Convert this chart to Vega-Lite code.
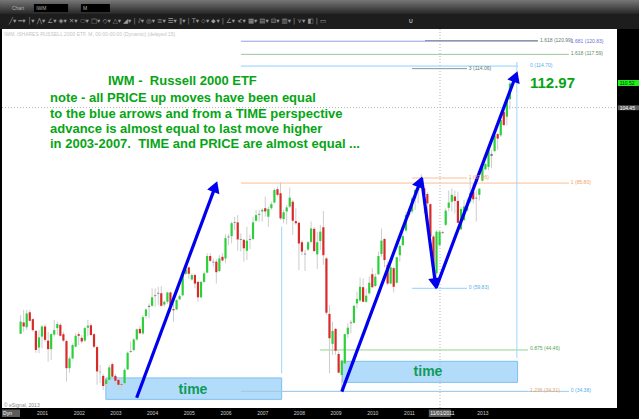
{
"$schema":"https://vega.github.io/schema/vega-lite/v6.json",
"width":615,"height":379,"autosize":"none",
"padding":{"left":2,"right":22,"top":29,"bottom":11},
"background":"#000000",
"view":{"fill":"#ffffff","stroke":null},
"resolve":{"scale":{"color":"independent"}},
"datasets":{
"candles":[
{"x":2000.417,"open":48.6,"high":53.2,"low":48.6,"close":51.6,"dir":"up"},
{"x":2000.5,"open":51.4,"high":54.5,"low":49.1,"close":50.4,"dir":"down"},
{"x":2000.583,"open":50.2,"high":54.5,"low":49.5,"close":53.6,"dir":"up"},
{"x":2000.667,"open":53.9,"high":54.5,"low":51.6,"close":51.8,"dir":"down"},
{"x":2000.75,"open":52.2,"high":52.4,"low":49.1,"close":49.5,"dir":"down"},
{"x":2000.833,"open":49.3,"high":49.5,"low":43.9,"close":44.6,"dir":"down"},
{"x":2000.917,"open":45.2,"high":49.5,"low":43.8,"close":47.7,"dir":"up"},
{"x":2001.0,"open":47.9,"high":50.8,"low":45,"close":50.4,"dir":"up"},
{"x":2001.083,"open":50.4,"high":51,"low":46.6,"close":47.1,"dir":"down"},
{"x":2001.167,"open":46.9,"high":49.1,"low":41.7,"close":44.8,"dir":"down"},
{"x":2001.25,"open":44.8,"high":48.7,"low":42.1,"close":48.5,"dir":"up"},
{"x":2001.333,"open":48.4,"high":52,"low":47.9,"close":49.5,"dir":"up"},
{"x":2001.417,"open":50,"high":51.6,"low":48.3,"close":51,"dir":"up"},
{"x":2001.5,"open":50.8,"high":51.2,"low":47.9,"close":48.1,"dir":"down"},
{"x":2001.583,"open":48.5,"high":49.1,"low":46.6,"close":46.9,"dir":"down"},
{"x":2001.667,"open":46.8,"high":47.1,"low":36.8,"close":40.1,"dir":"down"},
{"x":2001.75,"open":40.1,"high":43,"low":39,"close":42.5,"dir":"up"},
{"x":2001.833,"open":42.5,"high":46.2,"low":42.3,"close":45.8,"dir":"up"},
{"x":2001.917,"open":45.4,"high":48.7,"low":45.4,"close":48.1,"dir":"up"},
{"x":2002.0,"open":48.5,"high":49.1,"low":45.8,"close":48.1,"dir":"down"},
{"x":2002.083,"open":47.6,"high":48.3,"low":46.2,"close":46.7,"dir":"down"},
{"x":2002.167,"open":46.9,"high":50.4,"low":46.6,"close":50,"dir":"up"},
{"x":2002.25,"open":50.1,"high":52,"low":47.9,"close":50.6,"dir":"up"},
{"x":2002.333,"open":50.7,"high":51.2,"low":48.1,"close":48.3,"dir":"down"},
{"x":2002.417,"open":48.5,"high":48.7,"low":45,"close":45.4,"dir":"down"},
{"x":2002.5,"open":45.3,"high":45.6,"low":36,"close":39.3,"dir":"down"},
{"x":2002.583,"open":39.2,"high":40.9,"low":36.4,"close":39.1,"dir":"flat"},
{"x":2002.667,"open":38.2,"high":38.7,"low":34.7,"close":35.7,"dir":"down"},
{"x":2002.75,"open":36.2,"high":37.6,"low":35.5,"close":37.3,"dir":"up"},
{"x":2002.833,"open":37.2,"high":40.9,"low":36.8,"close":40.3,"dir":"up"},
{"x":2002.917,"open":41.1,"high":41.5,"low":37.6,"close":38,"dir":"down"},
{"x":2003.0,"open":38.2,"high":38.7,"low":36,"close":37,"dir":"down"},
{"x":2003.083,"open":37.2,"high":37.6,"low":34.7,"close":36,"dir":"down"},
{"x":2003.167,"open":36.2,"high":36.8,"low":34.6,"close":36,"dir":"flat"},
{"x":2003.25,"open":36.4,"high":40.1,"low":36,"close":39.7,"dir":"up"},
{"x":2003.333,"open":39.8,"high":44.2,"low":39.7,"close":43.9,"dir":"up"},
{"x":2003.417,"open":44.1,"high":46.7,"low":43.9,"close":44.3,"dir":"flat"},
{"x":2003.5,"open":44.6,"high":47.5,"low":44.2,"close":47.2,"dir":"up"},
{"x":2003.583,"open":47.2,"high":49.9,"low":46.9,"close":49.7,"dir":"up"},
{"x":2003.667,"open":49.8,"high":50.5,"low":48.5,"close":48.7,"dir":"down"},
{"x":2003.75,"open":48.7,"high":53.2,"low":48.3,"close":52.7,"dir":"up"},
{"x":2003.833,"open":53,"high":54.9,"low":52.4,"close":54.6,"dir":"up"},
{"x":2003.917,"open":55.2,"high":56.1,"low":52.4,"close":55.5,"dir":"flat"},
{"x":2004.0,"open":55.5,"high":59.8,"low":55.3,"close":57.6,"dir":"up"},
{"x":2004.083,"open":57.9,"high":59.8,"low":55.3,"close":58.1,"dir":"flat"},
{"x":2004.167,"open":58.5,"high":60.2,"low":55.7,"close":58.7,"dir":"flat"},
{"x":2004.25,"open":58.6,"high":60.4,"low":55.3,"close":55.5,"dir":"down"},
{"x":2004.333,"open":55.8,"high":56.8,"low":55.3,"close":56.5,"dir":"up"},
{"x":2004.417,"open":56.5,"high":59,"low":56,"close":58.8,"dir":"up"},
{"x":2004.5,"open":58.8,"high":59,"low":54,"close":55.3,"dir":"down"},
{"x":2004.583,"open":54.7,"high":56.1,"low":51.6,"close":54.4,"dir":"down"},
{"x":2004.667,"open":54.6,"high":57.1,"low":54.5,"close":56.9,"dir":"up"},
{"x":2004.75,"open":57.1,"high":58.3,"low":56.9,"close":57.9,"dir":"up"},
{"x":2004.833,"open":58.1,"high":63.5,"low":57.9,"close":63.4,"dir":"up"},
{"x":2004.917,"open":63.4,"high":65,"low":63.1,"close":64.5,"dir":"up"},
{"x":2005.0,"open":65,"high":65.2,"low":62.1,"close":63.4,"dir":"down"},
{"x":2005.083,"open":62,"high":63.5,"low":61.7,"close":63.1,"dir":"up"},
{"x":2005.167,"open":63.1,"high":63.5,"low":59.8,"close":61,"dir":"down"},
{"x":2005.25,"open":61.4,"high":61.7,"low":56.5,"close":57.6,"dir":"down"},
{"x":2005.333,"open":57.6,"high":61.7,"low":57.4,"close":61.4,"dir":"up"},
{"x":2005.417,"open":61.4,"high":64,"low":61.2,"close":63.5,"dir":"up"},
{"x":2005.5,"open":63.7,"high":68.5,"low":63.5,"close":67.8,"dir":"up"},
{"x":2005.583,"open":67.8,"high":68.5,"low":66.4,"close":66.6,"dir":"down"},
{"x":2005.667,"open":66.4,"high":67.2,"low":65.2,"close":66.2,"dir":"flat"},
{"x":2005.75,"open":66.4,"high":67,"low":61,"close":63.8,"dir":"down"},
{"x":2005.833,"open":64.1,"high":68,"low":63.8,"close":67.2,"dir":"up"},
{"x":2005.917,"open":67.6,"high":68.5,"low":66.4,"close":66.7,"dir":"down"},
{"x":2006.0,"open":67.2,"high":73.2,"low":66,"close":72.2,"dir":"up"},
{"x":2006.083,"open":72.4,"high":73.2,"low":70.5,"close":72.6,"dir":"flat"},
{"x":2006.167,"open":72.7,"high":76.3,"low":70.9,"close":75.9,"dir":"up"},
{"x":2006.25,"open":76,"high":77.5,"low":74.2,"close":76.2,"dir":"flat"},
{"x":2006.333,"open":76.1,"high":77.9,"low":69.1,"close":71.9,"dir":"down"},
{"x":2006.417,"open":71.8,"high":73.4,"low":68.9,"close":72,"dir":"flat"},
{"x":2006.5,"open":71.8,"high":72,"low":66.4,"close":69.7,"dir":"down"},
{"x":2006.583,"open":69.1,"high":75,"low":66.8,"close":71.6,"dir":"up"},
{"x":2006.667,"open":71.8,"high":73,"low":69.5,"close":72,"dir":"flat"},
{"x":2006.75,"open":72,"high":77.5,"low":71.8,"close":76.1,"dir":"up"},
{"x":2006.833,"open":76.5,"high":79.2,"low":76.3,"close":77.9,"dir":"up"},
{"x":2006.917,"open":78,"high":79.2,"low":76.3,"close":78.2,"dir":"flat"},
{"x":2007.0,"open":78.8,"high":79.6,"low":76.3,"close":79.2,"dir":"up"},
{"x":2007.083,"open":79.6,"high":82.5,"low":77.5,"close":78.8,"dir":"down"},
{"x":2007.167,"open":77.5,"high":80,"low":75,"close":79.4,"dir":"up"},
{"x":2007.25,"open":79.6,"high":81.2,"low":79.2,"close":80.6,"dir":"up"},
{"x":2007.333,"open":81,"high":84.5,"low":80.8,"close":84.1,"dir":"up"},
{"x":2007.417,"open":84.3,"high":84.9,"low":82.5,"close":82.9,"dir":"down"},
{"x":2007.5,"open":83.3,"high":86,"low":76.7,"close":77.1,"dir":"down"},
{"x":2007.583,"open":76.9,"high":79.2,"low":75.9,"close":78.6,"dir":"up"},
{"x":2007.667,"open":78.8,"high":80.4,"low":75.6,"close":79.8,"dir":"up"},
{"x":2007.75,"open":80,"high":84.7,"low":79.6,"close":82.2,"dir":"up"},
{"x":2007.833,"open":81.2,"high":81.6,"low":73,"close":76.5,"dir":"down"},
{"x":2007.917,"open":76.4,"high":79.6,"low":75.5,"close":75.9,"dir":"down"},
{"x":2008.0,"open":76,"high":76.3,"low":64.3,"close":70.9,"dir":"down"},
{"x":2008.083,"open":71.2,"high":71.8,"low":68,"close":68.9,"dir":"down"},
{"x":2008.167,"open":68.4,"high":69.3,"low":64.1,"close":68.2,"dir":"flat"},
{"x":2008.25,"open":69.4,"high":71.5,"low":69,"close":71.2,"dir":"up"},
{"x":2008.333,"open":71.3,"high":76.3,"low":70.9,"close":74.6,"dir":"up"},
{"x":2008.417,"open":74.5,"high":75,"low":68.9,"close":69,"dir":"down"},
{"x":2008.5,"open":68.2,"high":73.8,"low":64.6,"close":71.2,"dir":"up"},
{"x":2008.583,"open":71.5,"high":75.5,"low":69.3,"close":73.8,"dir":"up"},
{"x":2008.667,"open":74.9,"high":78.9,"low":65.6,"close":68,"dir":"down"},
{"x":2008.75,"open":67.2,"high":67.5,"low":53.2,"close":53.8,"dir":"down"},
{"x":2008.833,"open":53.5,"high":55.7,"low":38.8,"close":47.5,"dir":"down"},
{"x":2008.917,"open":46.1,"high":51.6,"low":43.4,"close":49.3,"dir":"up"},
{"x":2009.0,"open":49.8,"high":50,"low":43.4,"close":44.4,"dir":"down"},
{"x":2009.083,"open":43.6,"high":44.2,"low":38.8,"close":39,"dir":"down"},
{"x":2009.167,"open":38.4,"high":42.2,"low":34.4,"close":42,"dir":"up"},
{"x":2009.25,"open":41.3,"high":48.6,"low":41,"close":48.5,"dir":"up"},
{"x":2009.333,"open":48.5,"high":51.2,"low":47.5,"close":50.1,"dir":"up"},
{"x":2009.417,"open":51.2,"high":52,"low":48.7,"close":51.4,"dir":"flat"},
{"x":2009.5,"open":51.3,"high":55.7,"low":51.2,"close":55.5,"dir":"up"},
{"x":2009.583,"open":56.1,"high":59,"low":54.9,"close":57.2,"dir":"up"},
{"x":2009.667,"open":56.8,"high":62.5,"low":56.5,"close":60.2,"dir":"up"},
{"x":2009.75,"open":60.1,"high":62.3,"low":56.4,"close":56.5,"dir":"down"},
{"x":2009.833,"open":56.5,"high":59.8,"low":56.3,"close":58,"dir":"up"},
{"x":2009.917,"open":58.6,"high":62.7,"low":58.2,"close":61.2,"dir":"up"},
{"x":2010.0,"open":63.3,"high":64.8,"low":59.8,"close":60.1,"dir":"down"},
{"x":2010.083,"open":60.4,"high":63.5,"low":60.2,"close":62.7,"dir":"up"},
{"x":2010.167,"open":63.3,"high":68.9,"low":63.1,"close":67.8,"dir":"up"},
{"x":2010.25,"open":68.3,"high":74.6,"low":67.6,"close":71.6,"dir":"up"},
{"x":2010.333,"open":72,"high":72.2,"low":65,"close":66.8,"dir":"down"},
{"x":2010.417,"open":65.6,"high":66.4,"low":60.6,"close":61,"dir":"down"},
{"x":2010.5,"open":61,"high":65.6,"low":60.8,"close":65,"dir":"up"},
{"x":2010.583,"open":64.8,"high":65.2,"low":58.8,"close":60.2,"dir":"down"},
{"x":2010.667,"open":61.2,"high":67.7,"low":61,"close":67.5,"dir":"up"},
{"x":2010.75,"open":68,"high":70.9,"low":66.4,"close":70.3,"dir":"up"},
{"x":2010.833,"open":70.5,"high":74.2,"low":70.1,"close":72.7,"dir":"up"},
{"x":2010.917,"open":74.1,"high":78.7,"low":73.8,"close":77.9,"dir":"up"},
{"x":2011.0,"open":78.8,"high":79.6,"low":77.5,"close":78,"dir":"down"},
{"x":2011.083,"open":78.8,"high":82.5,"low":78.3,"close":82,"dir":"up"},
{"x":2011.167,"open":82,"high":84.5,"low":79.2,"close":84.1,"dir":"up"},
{"x":2011.25,"open":84.1,"high":86.6,"low":80.8,"close":86.2,"dir":"up"},
{"x":2011.333,"open":85,"high":88,"low":84.5,"close":86.8,"dir":"up"},
{"x":2011.417,"open":84.5,"high":85.3,"low":78.3,"close":82.9,"dir":"down"},
{"x":2011.5,"open":83.1,"high":83.7,"low":77.5,"close":80.8,"dir":"down"},
{"x":2011.583,"open":80.6,"high":80.8,"low":72.6,"close":72.6,"dir":"down"},
{"x":2011.667,"open":72.6,"high":73,"low":64,"close":64.4,"dir":"down"},
{"x":2011.75,"open":63.5,"high":74.2,"low":62.3,"close":73.8,"dir":"up"},
{"x":2011.833,"open":70.5,"high":74,"low":70.1,"close":73.8,"dir":"up"},
{"x":2011.917,"open":73.5,"high":74,"low":73.2,"close":73.7,"dir":"flat"},
{"x":2012.0,"open":75.5,"high":79.6,"low":75.2,"close":79,"dir":"up"},
{"x":2012.083,"open":79.7,"high":84,"low":78.8,"close":81,"dir":"up"},
{"x":2012.167,"open":81.2,"high":84.5,"low":78.8,"close":82.9,"dir":"up"},
{"x":2012.25,"open":82.5,"high":84,"low":78.3,"close":81.4,"dir":"down"},
{"x":2012.333,"open":81.4,"high":83.7,"low":75.9,"close":76,"dir":"down"},
{"x":2012.417,"open":74.4,"high":80,"low":74.2,"close":79.4,"dir":"up"},
{"x":2012.5,"open":76.7,"high":81.6,"low":76.4,"close":80,"dir":"up"},
{"x":2012.583,"open":79,"high":82,"low":78.8,"close":80.8,"dir":"up"},
{"x":2012.667,"open":81.2,"high":87,"low":80.8,"close":83.3,"dir":"up"},
{"x":2012.75,"open":83.7,"high":85.7,"low":80.8,"close":81.8,"dir":"down"},
{"x":2012.833,"open":82.2,"high":84,"low":76.3,"close":82,"dir":"flat"},
{"x":2012.917,"open":82.9,"high":84.6,"low":81.5,"close":84.4,"dir":"up"},
{"x":2013.0,"open":86.4,"high":90.3,"low":86.2,"close":89.9,"dir":"up"},
{"x":2013.083,"open":89.2,"high":90.8,"low":89,"close":90.5,"dir":"up"},
{"x":2013.167,"open":89.8,"high":94.3,"low":89,"close":93.9,"dir":"up"},
{"x":2013.25,"open":92.5,"high":94,"low":89.5,"close":93,"dir":"flat"},
{"x":2013.333,"open":93.7,"high":98,"low":93.5,"close":97.6,"dir":"up"},
{"x":2013.417,"open":97.9,"high":98.2,"low":94,"close":96.8,"dir":"down"},
{"x":2013.5,"open":97.6,"high":102.2,"low":97.2,"close":101.4,"dir":"up"},
{"x":2013.583,"open":103.4,"high":103.8,"low":100.1,"close":100.1,"dir":"down"},
{"x":2013.667,"open":102.2,"high":106.7,"low":100.1,"close":106.3,"dir":"up"},
{"x":2013.75,"open":106.5,"high":110.8,"low":104,"close":110.4,"dir":"up"}
],
"chrome":[
{"x":1999.856,"x2":2017.267,"y":127.56,"y2":123.85,"s":"toolbar"},
{"x":2000.78,"x2":2001.71,"y":130.0,"y2":128.05,"s":"black"},
{"x":2002.06,"x2":2002.85,"y":130.0,"y2":128.05,"s":"black"},
{"x":2016.69,"x2":2017.267,"y":111.26,"y2":109.78,"s":"green"},
{"x":2016.69,"x2":2017.267,"y":105.0,"y2":103.8,"s":"grey"},
{"x":2011.54,"x2":2012.14,"y":29.9,"y2":28.05,"s":"grey"},
{"x":1999.91,"x2":2000.4,"y":29.9,"y2":28.05,"s":"grey"}
],
"boxes":[
{"x":2002.74,"x2":2007.53,"y":37.7,"y2":32.4},
{"x":2009.19,"x2":2013.96,"y":41.8,"y2":36.6}
],
"cross":[
{"x":2011.845,"x2":2011.845,"y":123.85,"y2":30.27},
{"x":1999.91,"x2":2016.668,"y":104.45,"y2":104.45}
],
"hlines":[
{"x":2006.42,"x2":2014.515,"y":120.83,"s":"purple"},
{"x":2011.436,"x2":2014.515,"y":120.99,"s":"slate"},
{"x":2006.42,"x2":2015.36,"y":117.59,"s":"sage"},
{"x":2006.42,"x2":2013.97,"y":114.7,"s":"sky"},
{"x":2011.08,"x2":2012.58,"y":114.06,"s":"slate"},
{"x":2006.42,"x2":2015.36,"y":85.8,"s":"orange"},
{"x":2011.08,"x2":2012.58,"y":87.06,"s":"orange"},
{"x":2011.08,"x2":2012.58,"y":59.83,"s":"sky"},
{"x":2008.57,"x2":2014.24,"y":44.6,"s":"green"},
{"x":2006.42,"x2":2014.24,"y":34.36,"s":"orange"},
{"x":2006.42,"x2":2015.36,"y":34.38,"s":"sky"}
],
"vlines":[
{"x":2007.53,"y":75.0,"y2":38.8},
{"x":2013.94,"y":115.7,"y2":42.6}
],
"arrows":[
{"x":2003.58,"y":32.8,"arrow":"a"},{"x":2005.703,"y":84.5,"arrow":"a"},
{"x":2009.17,"y":34.3,"arrow":"b"},{"x":2011.286,"y":85.7,"arrow":"b"},
{"x":2011.34,"y":87.06,"arrow":"c"},{"x":2011.714,"y":61.4,"arrow":"c"},
{"x":2011.74,"y":59.98,"arrow":"d"},{"x":2013.885,"y":111.7,"arrow":"d"}
],
"heads":[
{"x":2005.703,"y":84.5,"heading":20.4},
{"x":2011.286,"y":85.7,"heading":20.5},
{"x":2011.714,"y":61.4,"heading":172.5},
{"x":2013.885,"y":111.7,"heading":20.5}
],
"fiblabels":[
{"x":2014.57,"y":121.2,"text":"1.618 (120.99)","s":"slate"},
{"x":2015.41,"y":121.0,"text":"1.681 (120.83)","s":"purple"},
{"x":2015.41,"y":117.9,"text":"1.618 (117.59)","s":"sage"},
{"x":2014.3,"y":114.95,"text":"0 (114.70)","s":"sky"},
{"x":2012.63,"y":114.2,"text":"3 (114.06)","s":"slate"},
{"x":2015.41,"y":86.0,"text":"1 (85.80)","s":"orange"},
{"x":2012.63,"y":87.4,"text":"1 (87.06)","s":"orange"},
{"x":2012.63,"y":60.2,"text":"0 (59.83)","s":"sky"},
{"x":2014.3,"y":45.0,"text":"0.875 (44.46)","s":"green"},
{"x":2014.3,"y":34.6,"text":"1.236 (34.31)","s":"orange"},
{"x":2015.41,"y":34.6,"text":"0 (34.38)","s":"sky"}
],
"uilabels":[
{"x":2000.18,"y":129.04,"text":"Chart","s":"dim"},
{"x":2000.84,"y":129.04,"text":"IWM","s":"dim"},
{"x":2002.12,"y":129.04,"text":"M","s":"dim"},
{"x":1999.965,"y":122.6,"text":"IWM, iSHARES RUSSELL 2000 ETF, M, 00:00-00:00 (Dynamic) (delayed 15)","s":"pale"},
{"x":1999.965,"y":31.0,"text":"© eSignal, 2013","s":"mid"},
{"x":2016.74,"y":110.52,"text":"110.52","s":"ink"},
{"x":2016.74,"y":104.45,"text":"104.45","s":"white"},
{"x":2011.58,"y":29.04,"text":"11/01/2011","s":"white"},
{"x":1999.94,"y":29.04,"text":"Dyn","s":"white"},
{"x":2011.0,"y":125.83,"text":"U","s":"white"}
],
"notes":[
{"x":2002.798,"y":111.0,"text":"IWM -\u00a0\u00a0Russell 2000 ETF"},
{"x":2001.218,"y":106.7,"text":"note - all PRICE up moves have been equal"},
{"x":2001.218,"y":102.9,"text":"to the blue arrows and from a TIME perspective"},
{"x":2001.218,"y":99.2,"text":"advance is almost equal to last move higher"},
{"x":2001.218,"y":95.5,"text":"in 2003-2007.\u00a0\u00a0TIME and PRICE are almost equal ..."}
]
},
"encoding":{
"x":{"field":"x","type":"quantitative","title":null,
 "scale":{"domain":[1999.91,2016.668],"nice":false,"zero":false},
 "axis":{"orient":"bottom","values":[2001,2002,2003,2004,2005,2006,2007,2008,2009,2010,2011,2013],"format":"d","grid":false,"domain":false,"ticks":false,"labelColor":"#cfcfcf","labelFont":"Liberation Sans","labelFontSize":5,"labelPadding":2}},
"y":{"field":"y","type":"quantitative","title":null,
 "scale":{"domain":[30.27,123.85],"nice":false,"zero":false},
 "axis":{"orient":"right","values":[32,36,40,44,48,52,56,60,64,68,72,76,80,84,88,92,96,100,104,108,112,116,120],"format":".2f","grid":false,"domain":false,"ticks":false,"labelColor":"#bdbdbd","labelFont":"Liberation Sans","labelFontSize":5,"labelPadding":3}}
},
"layer":[
{"data":{"values":[{"x":1999.856,"x2":2017.267,"y":131.01,"y2":127.56}]},
 "mark":{"type":"rect","fill":{"x1":0,"y1":0,"x2":0,"y2":1,"gradient":"linear","stops":[{"offset":0,"color":"#777777"},{"offset":1,"color":"#262626"}]}},
 "encoding":{"x2":{"field":"x2"},"y2":{"field":"y2"}}},
{"data":{"name":"chrome"},"mark":{"type":"rect"},
 "encoding":{"x2":{"field":"x2"},"y2":{"field":"y2"},
  "color":{"field":"s","legend":null,"scale":{"domain":["toolbar","black","green","grey"],"range":["#1d1d1d","#000000","#22ee22","#5c5c5c"]}}}},
{"data":{"name":"boxes"},"mark":{"type":"rect","fill":"#b3dcfb","stroke":"#7cc0f0","strokeWidth":1},
 "encoding":{"x2":{"field":"x2"},"y2":{"field":"y2"}}},
{"data":{"name":"cross"},"mark":{"type":"rule","stroke":"#b5b5b5","strokeWidth":1,"strokeDash":[1,2]},
 "encoding":{"x2":{"field":"x2"},"y2":{"field":"y2"}}},
{"data":{"name":"hlines"},"mark":{"type":"rule","strokeWidth":1},
 "encoding":{"x2":{"field":"x2"},
  "color":{"field":"s","legend":null,"scale":{"domain":["purple","slate","sage","sky","orange","green"],"range":["#9a9ae8","#7f9a92","#9cc79c","#8fd0fb","#fbbf95","#8fd68f"]}}}},
{"data":{"name":"vlines"},"mark":{"type":"rule","stroke":"#9fd5fb","strokeWidth":1},
 "encoding":{"y2":{"field":"y2"}}},
{"data":{"name":"candles"},"mark":{"type":"rule","stroke":"#cdcdcd","strokeWidth":1},
 "encoding":{"y":{"field":"low","type":"quantitative","title":null,"axis":null,"scale":{"domain":[30.27,123.85],"nice":false,"zero":false}},"y2":{"field":"high"}}},
{"data":{"name":"candles"},"mark":{"type":"rule","strokeWidth":2.2},
 "encoding":{"y":{"field":"open","type":"quantitative","title":null,"axis":null,"scale":{"domain":[30.27,123.85],"nice":false,"zero":false}},"y2":{"field":"close"},
  "color":{"field":"dir","legend":null,"scale":{"domain":["up","down","flat"],"range":["#2bd03a","#d92a2a","#777777"]}}}},
{"data":{"name":"arrows"},"mark":{"type":"line","stroke":"#0000ee","strokeWidth":3.2,"strokeCap":"butt"},
 "encoding":{"detail":{"field":"arrow"}}},
{"data":{"name":"heads"},"mark":{"type":"point","shape":"triangle","filled":true,"fill":"#0000ee","opacity":1,"size":170},
 "encoding":{"angle":{"field":"heading","type":"quantitative","scale":null}}},
{"data":{"name":"fiblabels"},"mark":{"type":"text","align":"left","baseline":"middle","font":"Liberation Sans","fontSize":5},
 "encoding":{"text":{"field":"text"},
  "color":{"field":"s","legend":null,"scale":{"domain":["purple","slate","sage","sky","orange","green"],"range":["#6f6fd8","#5f7a72","#5f8f5f","#55aee8","#f0a060","#55a855"]}}}},
{"data":{"name":"uilabels"},"mark":{"type":"text","align":"left","baseline":"middle","font":"Liberation Sans","fontSize":5},
 "encoding":{"text":{"field":"text"},
  "color":{"field":"s","legend":null,"scale":{"domain":["dim","pale","mid","ink","white"],"range":["#b0b0b0","#c4c4c4","#8a8a8a","#003300","#ffffff"]}}}},
{"data":{"values":[{"x":2000.1,"y":125.83,"text":"╱▾   ━▾   │▾   ⋀▾   ∠▾   ◈▾   ✕▾   ⬭▾   □▾   ◇▾   △▾   ◢▾  |  ⫽▾   ◎▾   ≡▾   ☰▾   ‖▾  |  T▾   ⬦▾   ⬥▾  |  ∠▾   ≮▾   ▦▾   ▤▾   ⊟▾   ▥▾  |  ⋎▾   ◧  |  ▭"}]},
 "mark":{"type":"text","align":"left","baseline":"middle","font":"DejaVu Sans","fontSize":6.5,"fill":"#9a9a9a"},
 "encoding":{"text":{"field":"text"}}},
{"data":{"name":"notes"},"mark":{"type":"text","align":"left","baseline":"middle","font":"Liberation Sans","fontWeight":"bold","fontSize":13,"fill":"#06a514"},
 "encoding":{"text":{"field":"text"}}},
{"data":{"values":[{"x":2014.297,"y":110.5,"text":"112.97"}]},
 "mark":{"type":"text","align":"left","baseline":"middle","font":"Liberation Sans","fontWeight":"bold","fontSize":15,"fill":"#06a514"},
 "encoding":{"text":{"field":"text"}}},
{"data":{"values":[{"x":2005.114,"y":34.6,"text":"time"},{"x":2011.518,"y":39.2,"text":"time"}]},
 "mark":{"type":"text","align":"center","baseline":"middle","font":"Liberation Sans","fontWeight":"bold","fontSize":14,"fill":"#0f9a5a"},
 "encoding":{"text":{"field":"text"}}}
]
}
